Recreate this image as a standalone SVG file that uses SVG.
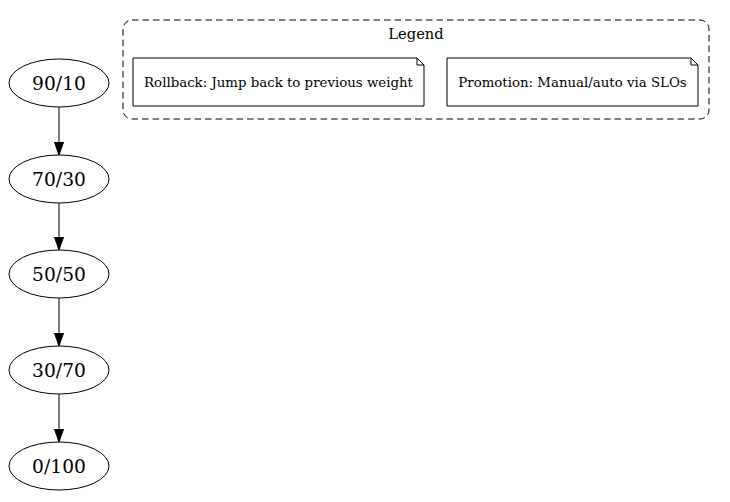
<svg xmlns="http://www.w3.org/2000/svg" width="730" height="502" viewBox="0 0 730 502">
<style>
.n ellipse{fill:none;stroke:#000;stroke-width:1}
.n text{font-family:"DejaVu Serif",serif;font-size:18.67px;text-anchor:middle;fill:#000}
.note path{fill:none;stroke:#000;stroke-width:1}
.note text{font-family:"DejaVu Serif",serif;font-size:13.33px;text-anchor:middle;fill:#000}
.e{stroke:#000;stroke-width:1;fill:none;marker-end:url(#ah)}
</style>
<defs>
<marker id="ah" markerWidth="14" markerHeight="10" refX="13.3" refY="4.7" orient="auto" markerUnits="userSpaceOnUse">
<path d="M0,0 L13.3,4.7 L0,9.4 Z" fill="#000" stroke="#000" stroke-width="1"/>
</marker>
</defs>
<rect width="730" height="502" fill="#fff"/>
<g id="legend">
<rect x="123" y="20" width="586" height="99" rx="9" ry="9" fill="none" stroke="#000" stroke-width="1" stroke-dasharray="6.5,4"/>
<text x="416" y="39" font-family="DejaVu Serif, serif" font-size="14.67" text-anchor="middle">Legend</text>
</g>
<g id="note_rollback" class="note">
<path d="M133,58 H417 L424,65 V106 H133 Z M417,58 V65 H424"/>
<text x="278.5" y="87">Rollback: Jump back to previous weight</text>
</g>
<g id="note_promotion" class="note">
<path d="M447,58 H691 L698,65 V106 H447 Z M691,58 V65 H698"/>
<text x="572.5" y="87">Promotion: Manual/auto via SLOs</text>
</g>
<g id="edges">
<path class="e" d="M59,107 V155"/>
<path class="e" d="M59,203 V250"/>
<path class="e" d="M59,298 V346"/>
<path class="e" d="M59,394 V442"/>
</g>
<g id="n90" class="n"><ellipse cx="59" cy="83" rx="50" ry="24"/><text x="59" y="89.5">90/10</text></g>
<g id="n70" class="n"><ellipse cx="59" cy="179" rx="50" ry="24"/><text x="59" y="185.5">70/30</text></g>
<g id="n50" class="n"><ellipse cx="59" cy="274" rx="50" ry="24"/><text x="59" y="280.5">50/50</text></g>
<g id="n30" class="n"><ellipse cx="59" cy="370" rx="50" ry="24"/><text x="59" y="376.5">30/70</text></g>
<g id="n0" class="n"><ellipse cx="59" cy="466" rx="50" ry="24"/><text x="59" y="472.5">0/100</text></g>
</svg>
